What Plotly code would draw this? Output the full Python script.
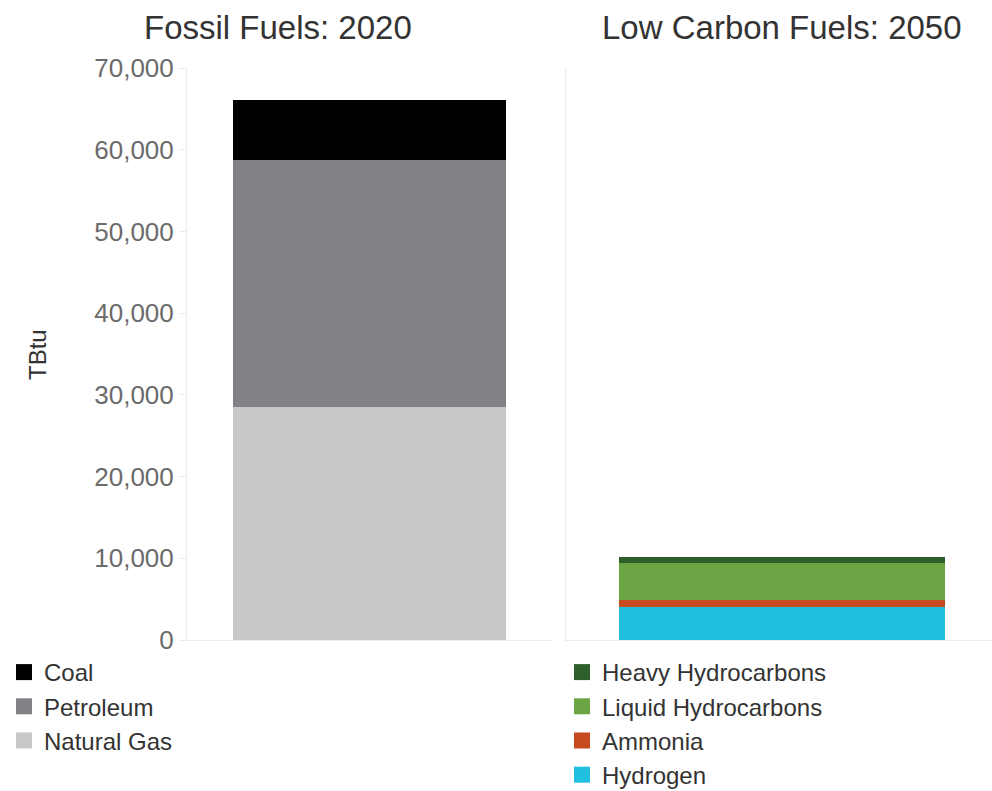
import plotly.graph_objects as go

# Energy consumption by fuel type (TBtu)
fossil_fuels = ["Natural Gas", "Petroleum", "Coal"]
fossil_values = [28500, 30250, 7350]
fossil_colors = ["#c8c8ca", "#818286", "#000000"]

low_carbon_fuels = ["Hydrogen", "Ammonia", "Liquid Hydrocarbons", "Heavy Hydrocarbons"]
low_carbon_values = [4050, 850, 4550, 720]
low_carbon_colors = ["#21c0de", "#c84a20", "#6ba543", "#2e5e2b"]

panel_titles = ["Fossil Fuels: 2020", "Low Carbon Fuels: 2050"]
y_ticks = [0, 10000, 20000, 30000, 40000, 50000, 60000, 70000]
y_title = "TBtu"

FONT = "Liberation Sans, Arial, sans-serif"
W, H = 992, 791
PLOT_TOP, PLOT_BOTTOM = 68, 640
PLOT_H = PLOT_BOTTOM - PLOT_TOP

fig = go.Figure()


def add_stack(names, values, colors, xcat, xa, ya, legend, width):
    for name, val, col in zip(names, values, colors):
        fig.add_trace(go.Bar(
            x=[xcat], y=[val], name=name, marker_color=col, marker_line_width=0,
            width=width, xaxis=xa, yaxis=ya, showlegend=False, legendgroup=name,
        ))
        # legend-only entry with a larger square swatch
        fig.add_trace(go.Scatter(
            x=[None], y=[None], mode="markers", name=name, legendgroup=name,
            marker=dict(symbol="square", size=24, color=col),
            xaxis=xa, yaxis=ya, legend=legend, hoverinfo="skip",
        ))


add_stack(fossil_fuels, fossil_values, fossil_colors, "2020", "x", "y", "legend", 0.75)
add_stack(low_carbon_fuels, low_carbon_values, low_carbon_colors, "2050", "x2", "y2", "legend2", 0.765)

axis_line = "#ececec"
yaxis_common = dict(
    range=[0, 70000], tickvals=y_ticks, showgrid=False, zeroline=False,
    showline=True, linecolor=axis_line, linewidth=1, automargin=False,
)
xaxis_common = dict(
    type="category", showticklabels=False, showgrid=False, zeroline=False,
    automargin=False, showline=True, linecolor=axis_line, linewidth=1,
)

legend_common = dict(
    xref="container", yref="container", y=1 - 650 / H,
    xanchor="left", yanchor="top", traceorder="reversed",
    font=dict(size=24, color="#333333", family=FONT),
    tracegroupgap=0, itemsizing="trace", bgcolor="rgba(0,0,0,0)",
)

fig.update_layout(
    width=W, height=H,
    barmode="stack",
    plot_bgcolor="white", paper_bgcolor="white",
    margin=dict(l=0, r=0, t=PLOT_TOP, b=H - PLOT_BOTTOM, autoexpand=False),
    font=dict(family=FONT, color="#333333"),
    xaxis=dict(domain=[187 / W, 552 / W], range=[-0.5, 0.5], **xaxis_common),
    xaxis2=dict(domain=[566 / W, 1.0], range=[-0.507, 0.493], **xaxis_common),
    yaxis=dict(
        anchor="x", tickformat=",d", ticks="outside", ticklen=7, tickcolor=axis_line,
        tickfont=dict(size=26, color="#6b6b6b", family=FONT),
        **yaxis_common,
    ),
    yaxis2=dict(anchor="x2", showticklabels=False, ticks="", **yaxis_common),
    legend=dict(x=4 / W, **legend_common),
    legend2=dict(x=562 / W, **legend_common),
)

for text, cx in zip(panel_titles, [278, 782]):
    fig.add_annotation(
        text=text, xref="paper", yref="paper", x=cx / W, y=(PLOT_BOTTOM - 28) / PLOT_H,
        xanchor="center", yanchor="middle", showarrow=False,
        font=dict(size=33, color="#333333", family=FONT),
    )

fig.add_annotation(
    text=y_title, xref="paper", yref="paper", x=37 / W, y=(PLOT_BOTTOM - 355) / PLOT_H,
    xanchor="center", yanchor="middle", textangle=-90, showarrow=False,
    font=dict(size=24, color="#333333", family=FONT),
)

fig.write_html("out.html")
